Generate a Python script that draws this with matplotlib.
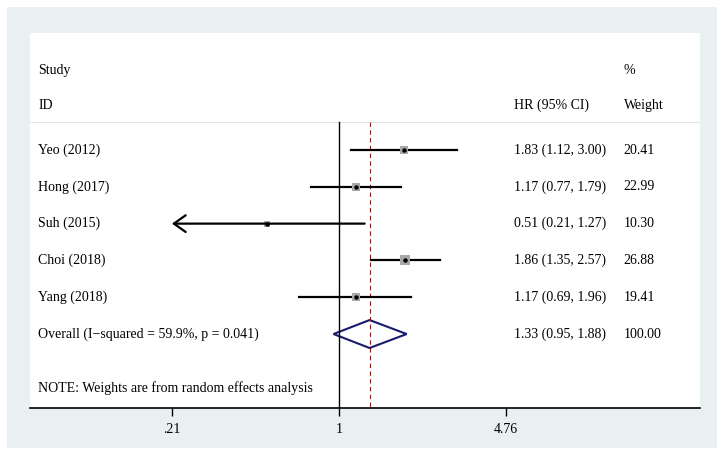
import matplotlib
matplotlib.use("Agg")
import matplotlib.pyplot as plt
from matplotlib.patches import Rectangle, Polygon
import numpy as np

# dati dello studio
studies = ["Yeo (2012)", "Hong (2017)", "Suh (2015)", "Choi (2018)", "Yang (2018)"]
hr = [1.83, 1.17, 0.51, 1.86, 1.17]
lo = [1.12, 0.77, 0.21, 1.35, 0.69]
hi = [3.00, 1.79, 1.27, 2.57, 1.96]
weights = [20.41, 22.99, 10.30, 26.88, 19.41]

overall_label = "Overall (I\u2212squared = 59.9%, p = 0.041)"
overall = (1.33, 0.95, 1.88)
overall_weight = "100.00"
tick_vals = [0.21, 1, 4.76]
tick_labels = [".21", "1", "4.76"]

plt.rcParams['font.family'] = ['Liberation Serif', 'DejaVu Serif']
fs = 10

fig = plt.figure(figsize=(7.25, 4.57), dpi=100)
fig.patch.set_facecolor('white')
fig.patches.append(Rectangle((7 / 725, 1 - 448 / 457), 710 / 725, 441 / 457,
                             transform=fig.transFigure, facecolor='#e8f0f2',
                             edgecolor='none', zorder=-5))

ax = fig.add_axes([30 / 725, 1 - 408 / 457, 670 / 725, 375 / 457])
ax.set_zorder(5)
ax.set_facecolor('white')
ax.set_xscale('log')
ax.set_xlim(0.0558, 29.1)
ax.set_ylim(7.01, -3.18)

for s in ['top', 'left', 'right']:
    ax.spines[s].set_visible(False)
ax.spines['bottom'].set_linewidth(1.2)
ax.set_yticks([])
ax.set_xticks(tick_vals)
ax.set_xticklabels(tick_labels, fontsize=fs)
ax.minorticks_off()
ax.tick_params(axis='x', length=6, width=1, pad=5)

top = -0.76
ax.axhline(top, color='#e4e4e4', lw=0.7)
ax.plot([1, 1], [top, 7.01], color='black', lw=1)
ax.plot([overall[0]] * 2, [top, 7.01], color='#8b1a1a', lw=0.8,
        linestyle=(0, (4, 3)))

# barre degli intervalli
for i in range(len(studies)):
    if lo[i] <= 0.21:
        ax.annotate('', xy=(lo[i], i), xytext=(hi[i], i),
                    arrowprops=dict(arrowstyle='->,head_length=0.85,head_width=0.6',
                                    lw=1.6, color='black', shrinkA=0, shrinkB=0))
    else:
        ax.plot([lo[i], hi[i]], [i, i], color='black', lw=1.6)
    ax.plot(hr[i], i, 's', color='#a8a8a8', markersize=1.3 * np.sqrt(weights[i]),
            markeredgewidth=0)
    ax.plot(hr[i], i, 'o', color='black', markersize=2.2)

# diamante complessivo
ov = len(studies)
diamond = Polygon([[overall[1], ov], [overall[0], ov - 0.38],
                   [overall[2], ov], [overall[0], ov + 0.38]],
                  closed=True, fill=False, edgecolor='#1a1a6e', lw=1.5)
ax.add_patch(diamond)

# testi
tr = ax.get_yaxis_transform()
x_name, x_hr, x_w = 0.012, 0.722, 0.886
ax.text(x_name, -2.17, "Study", transform=tr, fontsize=fs, va='center')
ax.text(x_name, -1.22, "ID", transform=tr, fontsize=fs, va='center')
ax.text(x_hr, -1.22, "HR (95% CI)", transform=tr, fontsize=fs, va='center')
ax.text(x_w, -2.17, "%", transform=tr, fontsize=fs, va='center')
ax.text(x_w, -1.22, "Weight", transform=tr, fontsize=fs, va='center')

for i in range(len(studies)):
    ax.text(x_name, i, studies[i], transform=tr, fontsize=fs, va='center')
    ax.text(x_hr, i, "%.2f (%.2f, %.2f)" % (hr[i], lo[i], hi[i]),
            transform=tr, fontsize=fs, va='center')
    ax.text(x_w, i, "%.2f" % weights[i], transform=tr, fontsize=fs, va='center')

ax.text(x_name, ov, overall_label, transform=tr, fontsize=fs, va='center')
ax.text(x_hr, ov, "%.2f (%.2f, %.2f)" % overall, transform=tr, fontsize=fs, va='center')
ax.text(x_w, ov, overall_weight, transform=tr, fontsize=fs, va='center')

ax.text(x_name, 6.47, "NOTE: Weights are from random effects analysis",
        transform=tr, fontsize=fs, va='center')

fig.savefig("out.png", dpi=100)
